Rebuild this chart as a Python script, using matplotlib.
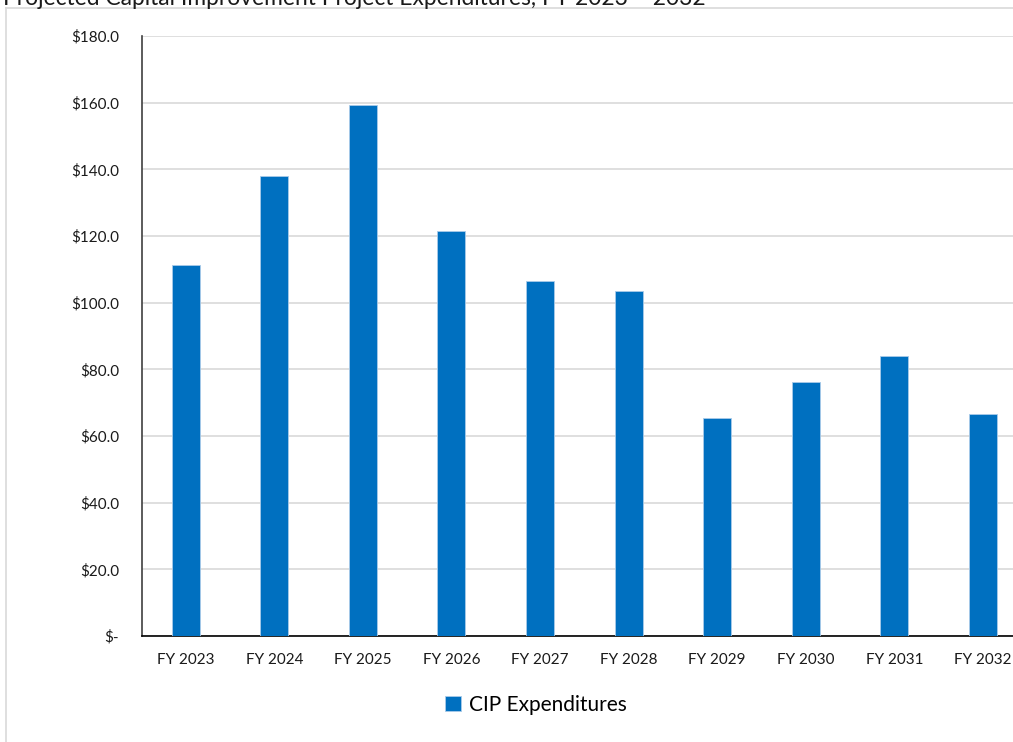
import matplotlib
matplotlib.use("Agg")
import matplotlib.pyplot as plt
from matplotlib.ticker import FixedLocator, FuncFormatter

# Projected CIP expenditures ($ millions) by fiscal year
categories = ["FY 2023", "FY 2024", "FY 2025", "FY 2026", "FY 2027",
              "FY 2028", "FY 2029", "FY 2030", "FY 2031", "FY 2032"]
cip_expenditures = [111.2, 138.1, 159.2, 121.6, 106.6,
                    103.6, 65.3, 76.3, 84.1, 66.5]
y_ticks = [0, 20, 40, 60, 80, 100, 120, 140, 160, 180]
series_name = "CIP Expenditures"
title_text = "Projected Capital Improvement Project Expenditures, FY 2023 \u2013 2032"

plt.rcParams["font.family"] = ["Lato", "DejaVu Sans"]

W, H = 1013, 742
fig = plt.figure(figsize=(W / 100, H / 100), dpi=100)

# chart frame
fig.add_artist(plt.Line2D([6 / W, 6 / W], [0, 1 - 8 / H], color="#d9d9d9", lw=1.2))
fig.add_artist(plt.Line2D([6 / W, 1], [1 - 8 / H, 1 - 8 / H], color="#d9d9d9", lw=1.2))

# title sitting at the very top edge
fig.text(3 / W, 1 - 5 / H, title_text, fontsize=16.4, color="#1a1a1a",
         ha="left", va="baseline")

left_px, right_px = 141.5, 141.5 + 885.6
top_px, bottom_px = 36, 636
ax = fig.add_axes([left_px / W, 1 - bottom_px / H,
                   (right_px - left_px) / W, (bottom_px - top_px) / H])

x = list(range(len(categories)))
ax.bar(x, cip_expenditures, width=0.316, color="#0070C0",
       edgecolor="#a9cbe9", linewidth=0.6, label=series_name, zorder=3)

ax.set_xlim(-0.5, len(categories) - 0.5)
ax.set_ylim(0, 180)
ax.yaxis.set_major_locator(FixedLocator(y_ticks))
ax.yaxis.set_major_formatter(FuncFormatter(
    lambda v, p: "$-" if v == 0 else f"${v:.1f}"))
ax.set_xticks(x)
ax.set_xticklabels(categories)

ax.grid(axis="y", color="#d9d9d9", lw=1.2, zorder=0)
ax.set_axisbelow(True)
for s in ("top", "right"):
    ax.spines[s].set_visible(False)
ax.spines["left"].set_color("#404040")
ax.spines["left"].set_linewidth(1.2)
ax.spines["bottom"].set_color("#000000")
ax.spines["bottom"].set_linewidth(1.2)

ax.tick_params(axis="y", length=0, pad=16, labelsize=11, labelcolor="#1a1a1a")
ax.tick_params(axis="x", length=0, pad=12, labelsize=11, labelcolor="#1a1a1a")

fig.legend(loc="center", bbox_to_anchor=(536 / W, 1 - 705 / H),
           frameon=False, fontsize=15, handlelength=0.75, handleheight=0.75,
           handletextpad=0.4)

fig.savefig("out.png", dpi=100)
